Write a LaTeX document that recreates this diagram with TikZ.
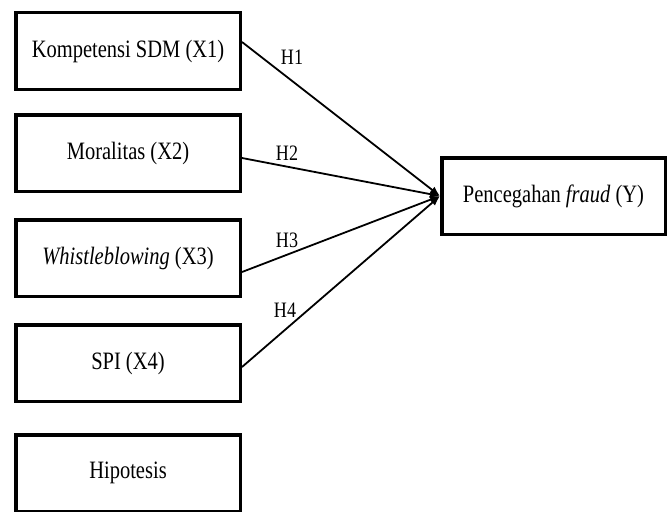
\documentclass[tikz,border=0pt]{standalone}
\usepackage{fontspec}
\setmainfont[FakeStretch=0.82]{Liberation Serif}
\usetikzlibrary{arrows,arrows.meta,calc,positioning}

\begin{document}
\begin{tikzpicture}[x=1pt, y=-1pt,
                    var/.style  ={rectangle,draw=black, line width=3.5pt, minimum width=224.5pt, minimum height=76.5pt, inner sep=0, font=\fontsize{25}{30}\selectfont},
                    hyp/.style  ={-{Latex[length=10pt,width=8pt]},draw, color=black, line width=1.8pt},
                    label/.style={rectangle,inner sep=0, font=\fontsize{22}{26}\selectfont}]

      \useasboundingbox (0,0) rectangle (668,511);
      \node[var] at(128, 51) (x1)  {Kompetensi SDM (X1)};
      \node[var] at(128,153) (x2)  {Moralitas (X2)};
      \node[var] at(128,258) (x3)  {\textit{Whistleblowing} (X3)};
      \node[var] at(128,363) (x4)  {SPI (X4)};
      \node[var] at(128,473) (hip) {Hipotesis};
      \node[var, minimum width=223.5pt] at(553.5,196) (y) {Pencegahan \textit{fraud} (Y)};
      \node[label] at(292, 57) (h1) {H1};
      \node[label] at(287,153) (h2) {H2};
      \node[label] at(287,240) (h3) {H3};
      \node[label] at(285,310) (h4) {H4};
      \path[hyp] ($(x1.east)+(0,-9)$) -- (y.west);
      \path[hyp] ($(x2.east)+(0, 5)$) -- (y.west);
      \path[hyp] ($(x3.east)+(0,14)$) -- (y.west);
      \path[hyp] ($(x4.east)+(0, 4)$) -- (y.west);
    \end{tikzpicture}
\end{document}
